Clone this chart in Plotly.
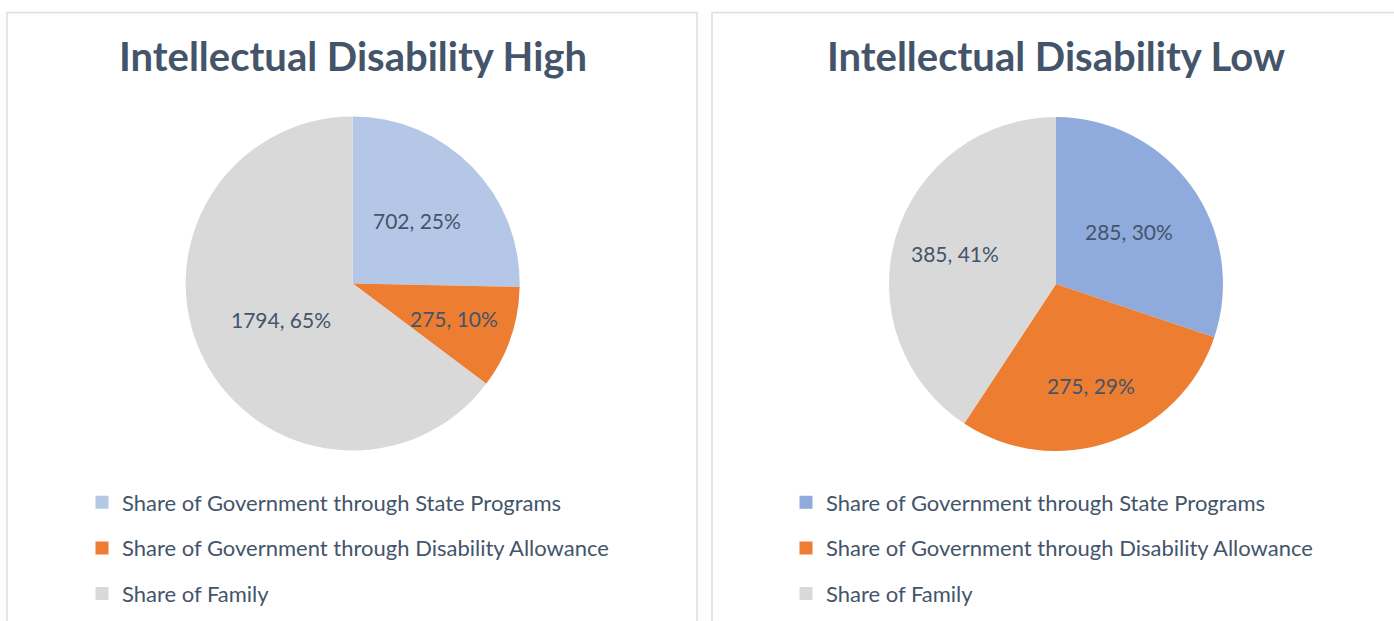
import math
import plotly.graph_objects as go

categories = ["Share of Government through State Programs",
              "Share of Government through Disability Allowance",
              "Share of Family"]
high_values = [702, 275, 1794]
low_values = [285, 275, 385]
titles = ["Intellectual Disability High", "Intellectual Disability Low"]
high_colors = ["#B4C7E7", "#ED7D31", "#D9D9D9"]
low_colors = ["#8FAADC", "#ED7D31", "#D9D9D9"]

W, H = 1394, 621
TEXT = "#44546A"
FONT = "Lato"

def px_x(v):
    return v / W

def px_y(v):  # v measured from top
    return 1 - v / H

R = 167
centers = [(352.7, 283.5), (1056.0, 284.0)]
label_radius = [[0.54, 0.64, 0.48], [0.54, 0.64, 0.63]]  # fraction of radius (label placement)

fig = go.Figure()
for i, (vals, cols) in enumerate([(high_values, high_colors), (low_values, low_colors)]):
    cx, cy = centers[i]
    fig.add_trace(go.Pie(
        labels=categories, values=vals, sort=False, direction="clockwise", rotation=0,
        marker=dict(colors=cols, line=dict(color="white", width=0)),
        textinfo="none",
        domain=dict(x=[px_x(cx - R), px_x(cx + R)], y=[px_y(cy + R), px_y(cy - R)]),
        showlegend=False, hoverinfo="label+value+percent",
    ))
    # data labels at slice mid-angles
    total = sum(vals)
    cum = 0
    for j, v in enumerate(vals):
        mid = (cum + v / 2) / total * 2 * math.pi
        cum += v
        d = label_radius[i][j] * R
        lx = cx + d * math.sin(mid)
        ly = cy - d * math.cos(mid)
        fig.add_annotation(text=f"{v}, {round(100 * v / total)}%",
                           x=px_x(lx), y=px_y(ly), xref="paper", yref="paper",
                           xanchor="center", yanchor="middle", showarrow=False,
                           font=dict(family=FONT, size=21, color=TEXT))
    # legend entries via dummy traces
    for j, (lab, col) in enumerate(zip(categories, cols)):
        fig.add_trace(go.Scatter(
            x=[None], y=[None], mode="markers", name=lab,
            marker=dict(symbol="square", size=13, color=col),
            legend="legend" if i == 0 else "legend2",
            legendgroup=f"g{i}{j}", showlegend=True, hoverinfo="skip",
        ))

legend_common = dict(
    font=dict(family=FONT, size=22, color=TEXT),
    bgcolor="rgba(0,0,0,0)", tracegroupgap=14, itemwidth=30,
    xanchor="left", yanchor="top", orientation="v",
)
fig.update_layout(
    width=W, height=H, margin=dict(l=0, r=0, t=0, b=0),
    paper_bgcolor="white", plot_bgcolor="white",
    xaxis=dict(visible=False), yaxis=dict(visible=False),
    legend=dict(x=px_x(82), y=px_y(481.5), **legend_common),
    legend2=dict(x=px_x(786), y=px_y(481.5), **legend_common),
)

# panel borders
for x0, x1 in [(7, 697), (712, 1400)]:
    fig.add_shape(type="rect", xref="paper", yref="paper",
                  x0=px_x(x0), x1=px_x(x1), y0=-0.05, y1=px_y(12.5),
                  line=dict(color="#D9DEE5", width=1.5), fillcolor="rgba(0,0,0,0)", layer="below")

for i, t in enumerate(titles):
    fig.add_annotation(text=f"<b>{t}</b>", x=px_x(centers[i][0]), y=px_y(56),
                       xref="paper", yref="paper", xanchor="center", yanchor="middle",
                       showarrow=False, font=dict(family=FONT, size=40, color=TEXT))

fig.write_html("out.html", config={"displayModeBar": False},
               post_script="document.body.style.margin='0';document.body.style.overflow='hidden';")
